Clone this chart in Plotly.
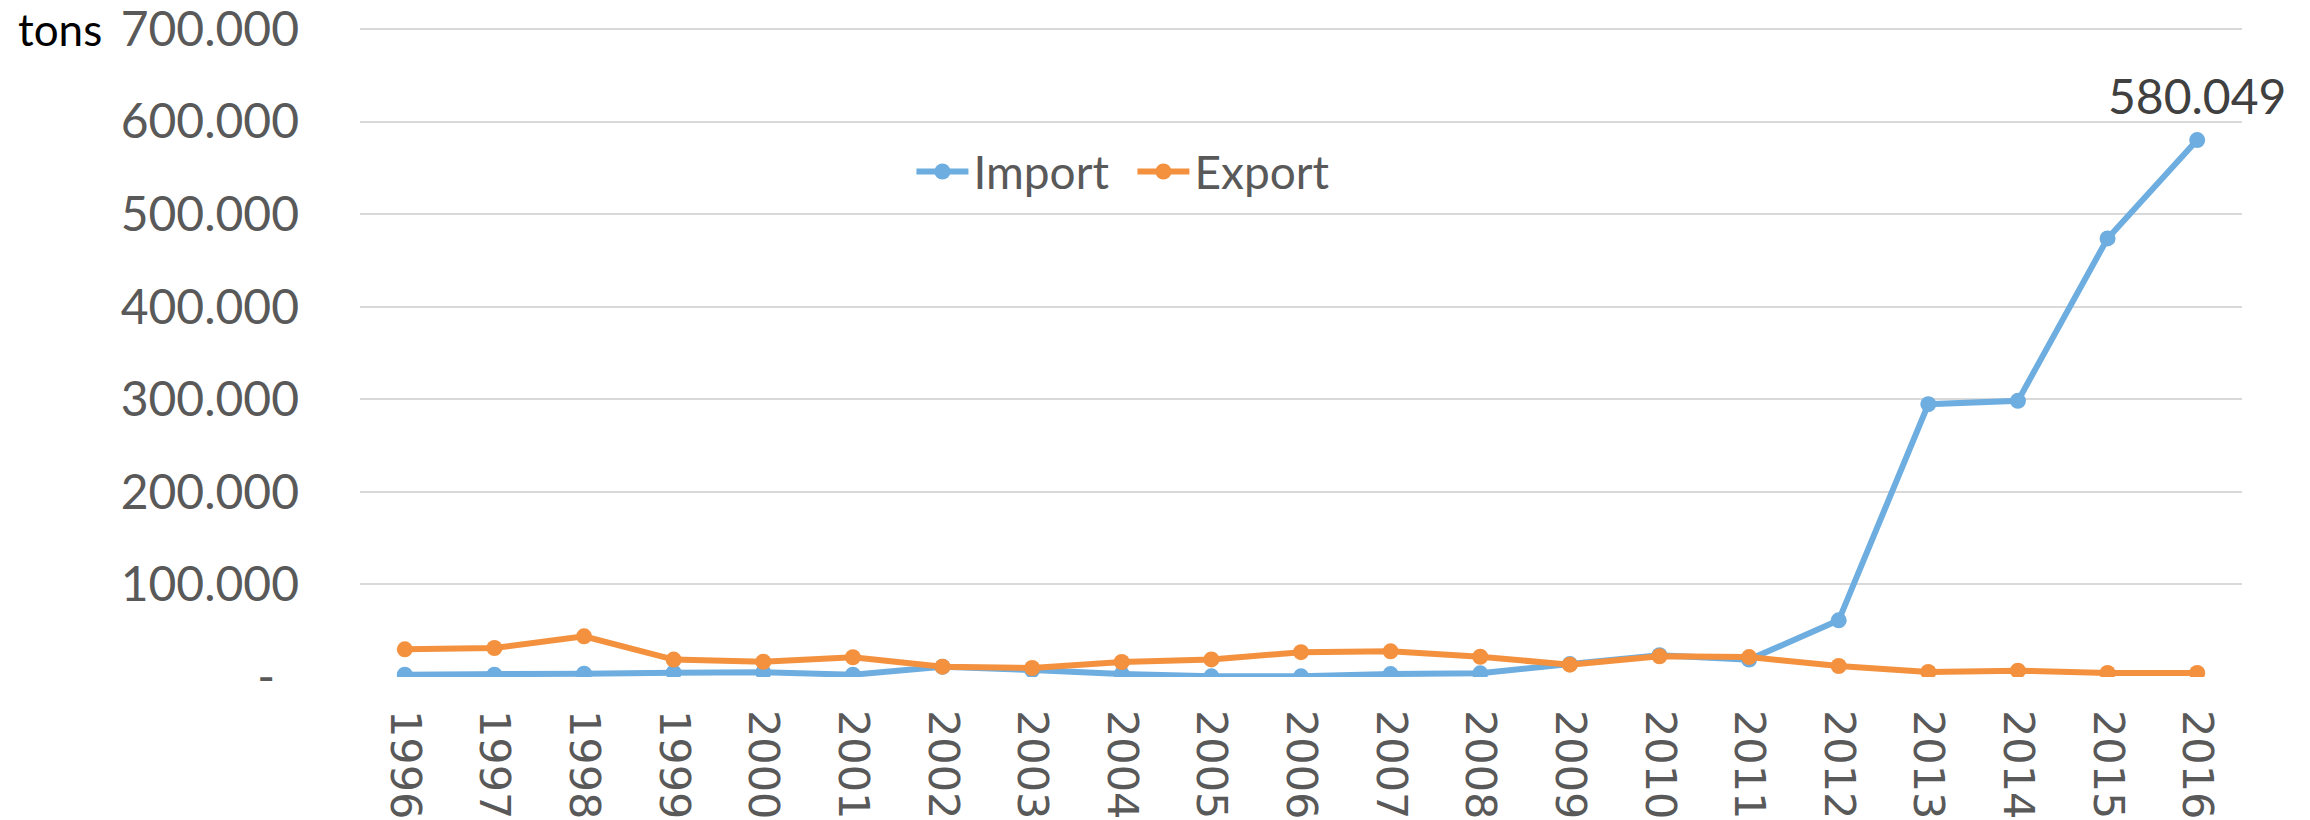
import plotly.graph_objects as go

years = [str(y) for y in range(1996, 2017)]
import_tons = [2.5, 2.5, 3.6, 4.7, 5.0, 2.5, 11.0, 7.5, 3.2, 0.7, 0.7, 3.2, 4.0, 14.0,
               23.5, 18.8, 61.2, 294.7, 298.3, 473.8, 580.049]
export_tons = [29.9, 31.3, 43.9, 18.8, 16.5, 21.3, 11.2, 9.7, 16.2, 19.0, 26.8, 27.7,
               21.9, 13.3, 22.4, 21.5, 11.9, 5.5, 6.8, 4.3, 4.3]
y_tickvals = [0, 100, 200, 300, 400, 500, 600, 700]
y_ticktext = ["-\u2002", "100.000", "200.000", "300.000", "400.000", "500.000", "600.000", "700.000"]
label_text = "580.049"
unit_text = "tons"

BLUE = "#6DADDF"
ORANGE = "#F3913F"
GREY = "#595959"

fig = go.Figure()
fig.add_trace(go.Scatter(x=years, y=import_tons, name="Import", mode="lines+markers",
                         line=dict(color=BLUE, width=6), marker=dict(color=BLUE, size=16)))
fig.add_trace(go.Scatter(x=years, y=export_tons, name="Export", mode="lines+markers",
                         line=dict(color=ORANGE, width=6), marker=dict(color=ORANGE, size=16)))

# category index of the last year
fig.add_annotation(x=len(years) - 1, y=import_tons[-1], text=label_text, showarrow=False,
                   xanchor="center", yanchor="bottom", yshift=14,
                   font=dict(family="Lato", size=48, color="#404040"))
fig.add_annotation(xref="paper", yref="paper", x=-0.183, y=0.992, text=unit_text, showarrow=False,
                   xanchor="left", yanchor="middle",
                   font=dict(family="Lato", size=44, color="#000000"))

fig.update_layout(
    width=2310, height=820,
    margin=dict(l=360, r=68, t=24, b=143),
    paper_bgcolor="white", plot_bgcolor="white",
    showlegend=True,
    legend=dict(orientation="h", x=0.293, y=0.774, xanchor="left", yanchor="middle",
                itemwidth=52, entrywidth=154,
                font=dict(family="Lato", size=46, color=GREY), bgcolor="rgba(0,0,0,0)"),
    xaxis=dict(type="category", range=[-0.5, len(years) - 0.5], tickangle=90,
               showgrid=False, zeroline=False, showline=False, automargin=False,
               ticks="", ticklabelstandoff=32, ticklabeloverflow="allow",
               tickfont=dict(family="DejaVu Sans", size=43, color=GREY)),
    yaxis=dict(range=[0, 705.4], tickvals=y_tickvals, ticktext=y_ticktext,
               showgrid=True, gridcolor="#D9D9D9", gridwidth=2, zeroline=False, showline=False,
               automargin=False, ticks="", ticklabelstandoff=60, ticklabeloverflow="allow",
               tickfont=dict(family="Lato", size=48, color=GREY)),
)

fig.write_html("out.html")
